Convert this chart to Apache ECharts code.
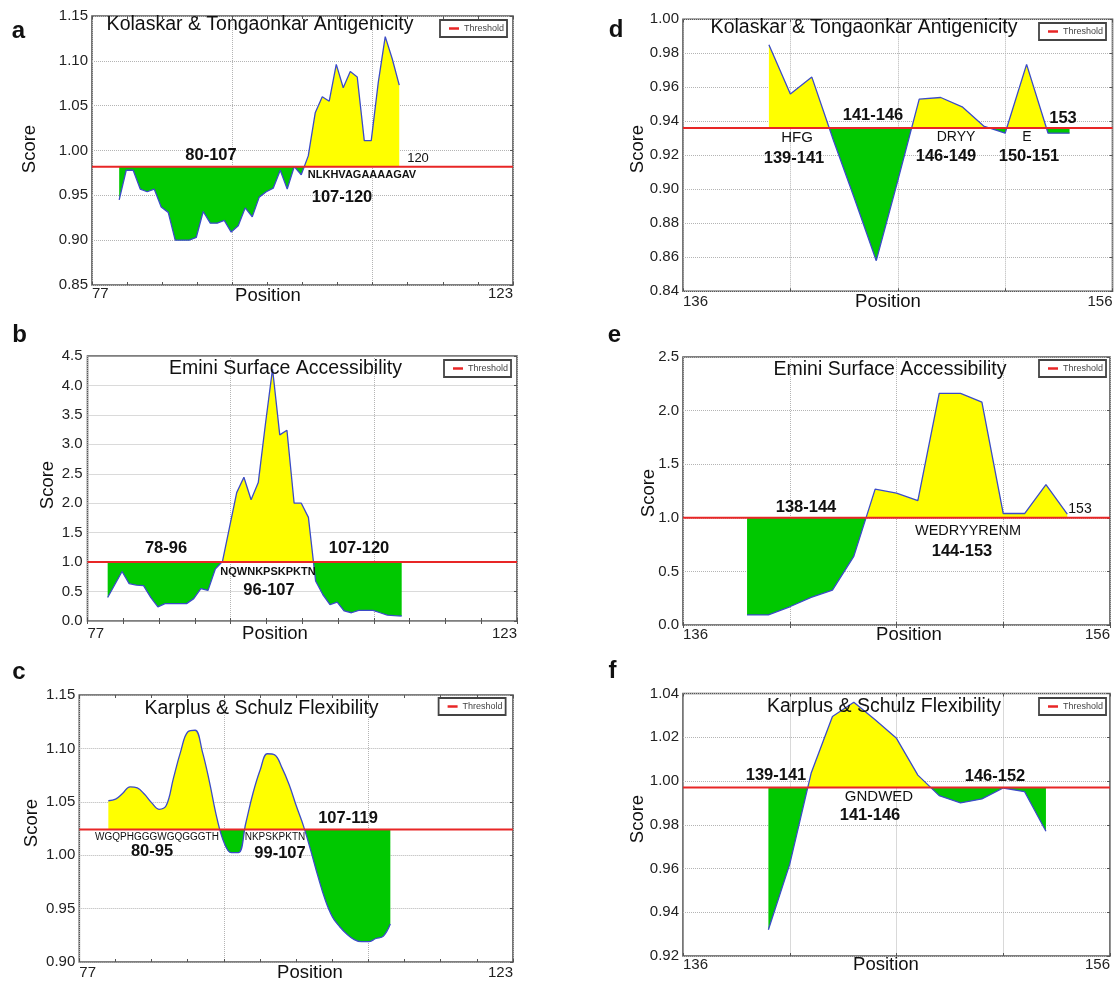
<!DOCTYPE html>
<html>
<head>
<meta charset="utf-8">
<script src="https://cdn.jsdelivr.net/npm/echarts@6/dist/echarts.min.js"></script>
<style>
  html, body { margin: 0; padding: 0; background: #fff; }
  #chart { width: 1120px; height: 981px; }
</style>
</head>
<body>
<div id="chart"></div>
<script>
// ---- data ----
// a: Kolaskar & Tongaonkar, region 77-123
const posA = [79.97, 80.74, 81.50, 82.27, 83.03, 83.80, 84.56, 85.33, 86.09, 86.86, 87.62, 88.39, 89.15, 89.92,
  90.68, 91.45, 92.21, 92.98, 93.74, 94.51, 95.27, 96.04, 96.80, 97.57, 98.33, 99.10, 99.86, 100.63, 101.39,
  102.16, 102.92, 103.69, 104.45, 105.22, 105.98, 106.75, 107.51, 108.28, 109.04, 109.81, 110.57];
const scoreA = [0.945, 0.978, 0.978, 0.957, 0.954, 0.957, 0.937, 0.931, 0.900, 0.900, 0.900, 0.903, 0.932, 0.919,
  0.919, 0.922, 0.909, 0.916, 0.936, 0.926, 0.948, 0.954, 0.958, 0.978, 0.957, 0.982, 0.973, 0.994, 1.042,
  1.060, 1.055, 1.096, 1.070, 1.088, 1.082, 1.011, 1.011, 1.076, 1.127, 1.102, 1.073];
const thrA = 0.982;

// b: Emini surface accessibility, region 77-123
const posB = [79.16, 79.93, 80.70, 81.46, 82.23, 83.00, 83.77, 84.54, 85.30, 86.07, 86.84, 87.61, 88.38, 89.14,
  89.91, 90.68, 91.45, 92.22, 92.98, 93.75, 94.52, 95.29, 96.06, 96.82, 97.59, 98.36, 99.13, 99.90, 100.66,
  101.43, 102.20, 102.97, 103.74, 104.50, 105.27, 106.04, 106.81, 107.58, 108.34, 109.11, 109.88, 110.65];
const scoreB = [0.40, 0.62, 0.84, 0.635, 0.61, 0.60, 0.40, 0.24, 0.295, 0.295, 0.295, 0.295, 0.38, 0.55,
  0.52, 0.88, 1.01, 1.60, 2.18, 2.44, 2.06, 2.35, 3.35, 4.28, 3.16, 3.24, 2.00, 2.00, 1.76,
  0.68, 0.45, 0.28, 0.32, 0.17, 0.14, 0.18, 0.18, 0.18, 0.14, 0.10, 0.09, 0.085];
const thrB = 1.0;

// c: Karplus & Schulz flexibility, region 77-123
const posC = [80.08, 80.85, 81.61, 82.38, 83.15, 83.92, 84.68, 85.45, 86.22, 86.98, 87.75, 88.52, 89.28, 90.05,
  90.82, 91.59, 92.35, 93.12, 93.89, 94.65, 95.42, 96.19, 96.95, 97.72, 98.49, 99.26, 100.02, 100.79,
  101.56, 102.32, 103.09, 103.86, 104.62, 105.39, 106.16, 106.93, 107.69, 108.46, 109.23, 109.99];
const scoreC = [1.051, 1.0525, 1.058, 1.064, 1.063, 1.057, 1.049, 1.043, 1.0465, 1.072, 1.097, 1.1156, 1.117, 1.097,
  1.068, 1.035, 1.012, 1.0025, 1.0025, 1.0297, 1.058, 1.080, 1.095, 1.094, 1.082, 1.066, 1.046, 1.027,
  1.004, 0.980, 0.958, 0.942, 0.933, 0.926, 0.921, 0.919, 0.919, 0.922, 0.924, 0.9355];
const thrC = 1.024;

// d: Kolaskar & Tongaonkar, region 136-156
const posD = [140, 141, 142, 143, 144, 145, 146, 147, 148, 149, 150, 151, 152, 153, 154];
const scoreD = [0.985, 0.956, 0.966, 0.929, 0.894, 0.858, 0.905, 0.953, 0.954, 0.9485, 0.9372, 0.933, 0.9735, 0.933, 0.933];
const thrD = 0.936;

// e: Emini surface accessibility, region 136-156
const posE = [139, 140, 141, 142, 143, 144, 145, 146, 147, 148, 149, 150, 151, 152, 153, 154];
const scoreE = [0.094, 0.094, 0.17, 0.257, 0.326, 0.64, 1.267, 1.23, 1.16, 2.16, 2.16, 2.08, 1.04, 1.04, 1.31, 1.035];
const thrE = 1.0;

// f: Karplus & Schulz flexibility, region 136-156
const posF = [140, 141, 142, 143, 144, 145, 146, 147, 148, 149, 150, 151, 152, 153];
const scoreF = [0.932, 0.962, 1.0035, 1.0295, 1.036, 1.028, 1.0195, 1.0027, 0.9933, 0.990, 0.9918, 0.9968, 0.9951, 0.977];
const thrF = 0.997;

const titleKT = 'Kolaskar & Tongaonkar Antigenicity';
const titleEmini = 'Emini Surface Accessibility';
const titleKS = 'Karplus & Schulz Flexibility';

// ---- layout (pixels) ----
const FONT = '"Liberation Sans", Arial, Helvetica, sans-serif';
const panels = [
  { letter: 'a', title: titleKT, pos: posA, score: scoreA, thr: thrA, xr: [77, 123, 46 / 3, 4], yr: [0.85, 1.15, 0.05, 2],
    box: [92, 16, 513, 285], xm: 1.5, ym: 4, smooth: false,
    letterAt: [18.5, 31], titleAt: [260, 25], scoreAt: [30, 149], positionAt: [268, 296], legendAt: [440, 20],
    notes: [['80-107', 211, 155, 'b'], ['NLKHVAGAAAAGAV', 362, 175, 's'], ['107-120', 342, 197, 'b'], ['120', 418, 158, 'n13']] },
  { letter: 'b', title: titleEmini, pos: posB, score: scoreB, thr: thrB, xr: [77, 123, 46 / 3, 4], yr: [0, 4.5, 0.5, 1],
    box: [87.5, 356, 517, 621], xm: 5.5, ym: 5, smooth: false,
    letterAt: [19.5, 335], titleAt: [285.5, 369], scoreAt: [47.5, 485], positionAt: [275, 634], legendAt: [444, 360],
    notes: [['78-96', 166, 548, 'b'], ['NQWNKPSKPKTN', 268, 572, 's'], ['96-107', 269, 590, 'b'], ['107-120', 359, 548, 'b']] },
  { letter: 'c', title: titleKS, pos: posC, score: scoreC, thr: thrC, xr: [77, 123, 46 / 3, 4], yr: [0.9, 1.15, 0.05, 2],
    box: [79.3, 695, 513, 962], xm: 3.5, ym: 4, smooth: 0.4,
    letterAt: [19, 672], titleAt: [261.5, 709], scoreAt: [32, 823], positionAt: [310, 973], legendAt: [438.6, 698],
    notes: [['WGQPHGGGWGQGGGTH', 157, 837, 'n10'], ['80-95', 152, 851, 'b'], ['NKPSKPKTN', 275, 837, 'n10'],
      ['99-107', 280, 853, 'b'], ['107-119', 348, 818, 'b']] },
  { letter: 'd', title: titleKT, pos: posD, score: scoreD, thr: thrD, xr: [136, 156, 5, 1], yr: [0.84, 1.0, 0.02, 2],
    box: [683, 19.3, 1112.5, 291.3], xm: 3, ym: 4, smooth: false,
    letterAt: [616, 30], titleAt: [864, 28], scoreAt: [638, 149], positionAt: [888, 302], legendAt: [1039, 23],
    notes: [['HFG', 797, 138, 'n15'], ['139-141', 794, 158, 'b'], ['141-146', 873, 115, 'b'], ['DRYY', 956, 137, 'n14'],
      ['146-149', 946, 156, 'b'], ['E', 1027, 137, 'n14'], ['150-151', 1029, 156, 'b'], ['153', 1063, 118, 'b']] },
  { letter: 'e', title: titleEmini, pos: posE, score: scoreE, thr: thrE, xr: [136, 156, 5, 1], yr: [0, 2.5, 0.5, 1],
    box: [683, 357, 1110, 625], xm: 2.5, ym: 4, smooth: false,
    letterAt: [614.5, 335.5], titleAt: [890, 370], scoreAt: [649, 493], positionAt: [909, 635], legendAt: [1039, 360],
    notes: [['138-144', 806, 507, 'b'], ['WEDRYYRENM', 968, 531, 'n14.5'], ['144-153', 962, 551, 'b'], ['153', 1080, 509, 'n14']] },
  { letter: 'f', title: titleKS, pos: posF, score: scoreF, thr: thrF, xr: [136, 156, 5, 1], yr: [0.92, 1.04, 0.02, 2],
    box: [683, 693.5, 1110, 956], xm: 1.5, ym: 4, smooth: false,
    letterAt: [612.5, 671.5], titleAt: [884, 707], scoreAt: [638, 819], positionAt: [886, 965], legendAt: [1039, 698],
    notes: [['139-141', 776, 775, 'b'], ['GNDWED', 879, 797, 'n15'], ['141-146', 870, 815, 'b'], ['146-152', 995, 776, 'b']] }
];

const YELLOW = '#ffff00';
const GREEN = '#00c800';
const LINE = '#3b4bc8';
const RED = '#e82626';

function text(str, x, y, size, weight, rotation) {
  return {
    type: 'text', x: x, y: y, rotation: rotation || 0, z: 100,
    style: { text: str, fill: '#111', fontSize: size, fontWeight: weight, fontFamily: FONT,
      align: 'center', verticalAlign: 'middle' }
  };
}

const option = {
  animation: false,
  textStyle: { fontFamily: FONT },
  grid: [], xAxis: [], yAxis: [], series: [], visualMap: [], legend: [], graphic: []
};

panels.forEach(function (p, i) {
  const [l, t, r, b] = p.box;
  option.grid.push({ left: l, top: t, width: r - l, height: b - t, show: true,
    borderColor: '#555', borderWidth: 1.6, backgroundColor: 'transparent' });

  const isEnd = v => Math.abs(v - p.xr[0]) < 1e-6 || Math.abs(v - p.xr[1]) < 1e-6;
  [false, true].forEach(function (top) {
    option.xAxis.push({
      type: 'value', gridIndex: i, position: top ? 'top' : 'bottom',
      min: p.xr[0], max: p.xr[1], interval: p.xr[2],
      axisLine: { show: false },
      axisTick: { show: true, inside: true, length: 3, lineStyle: { color: '#555' } },
      minorTick: { show: p.xr[3] > 1, splitNumber: p.xr[3], length: 3, lineStyle: { color: '#555' } },
      splitLine: { show: !top, lineStyle: { color: '#b4b4b4', type: 'dotted', width: 1 } },
      axisLabel: { show: !top, margin: p.xm, fontSize: 15, color: '#222', fontFamily: FONT,
        showMinLabel: true, showMaxLabel: true, alignMinLabel: 'left', alignMaxLabel: 'right',
        formatter: v => isEnd(v) ? String(Math.round(v)) : '' }
    });
    option.yAxis.push({
      type: 'value', gridIndex: i, position: top ? 'right' : 'left',
      min: p.yr[0], max: p.yr[1], interval: p.yr[2],
      axisLine: { show: false },
      axisTick: { show: top, inside: true, length: 3, lineStyle: { color: '#555' } },
      splitLine: { show: !top, lineStyle: { color: '#b4b4b4', type: 'dotted', width: 1 } },
      axisLabel: { show: !top, margin: p.ym, fontSize: 15, color: '#222', fontFamily: FONT,
        formatter: v => v.toFixed(p.yr[3]) }
    });
  });

  const sArea = option.series.length;
  option.series.push({
    type: 'line', xAxisIndex: 2 * i, yAxisIndex: 2 * i,
    data: p.pos.map((x, k) => [x, p.score[k]]),
    symbol: 'none', smooth: p.smooth, z: 2,
    lineStyle: { color: LINE, width: 1.3 },
    areaStyle: { origin: p.thr, opacity: 1 }
  });
  // fill colour: green below the threshold, yellow above (bounded pieces so the gradient has stops)
  option.visualMap.push({
    type: 'piecewise', show: false, seriesIndex: sArea, dimension: 1,
    pieces: [{ gte: p.yr[0], lt: p.thr, color: GREEN }, { gte: p.thr, lte: p.yr[1], color: YELLOW }],
    outOfRange: { color: YELLOW }
  });
  option.series.push({
    type: 'line', name: 'Threshold', xAxisIndex: 2 * i, yAxisIndex: 2 * i,
    data: [[p.xr[0], p.thr], [p.xr[1], p.thr]],
    symbol: 'none', z: 3,
    lineStyle: { color: RED, width: 2 }, itemStyle: { color: RED }
  });

  option.legend.push({
    left: p.legendAt[0], top: p.legendAt[1], data: ['Threshold'], selectedMode: false,
    icon: 'rect', itemWidth: 10, itemHeight: 2.5, padding: [4, 3, 4, 9],
    borderColor: '#444', borderWidth: 1.8, backgroundColor: '#fff',
    textStyle: { fontSize: 9, color: '#444', fontFamily: FONT }
  });

  option.graphic.push(text(p.letter, p.letterAt[0], p.letterAt[1], 24, 'bold'));
  option.graphic.push(text(p.title, p.titleAt[0], p.titleAt[1], 19.5, 'normal'));
  option.graphic.push(text('Score', p.scoreAt[0], p.scoreAt[1], 18.5, 'normal', Math.PI / 2));
  option.graphic.push(text('Position', p.positionAt[0], p.positionAt[1], 18.5, 'normal'));
  p.notes.forEach(function (n) {
    const kind = n[3];
    if (kind === 'b') option.graphic.push(text(n[0], n[1], n[2], 16.5, 'bold'));
    else if (kind === 's') option.graphic.push(text(n[0], n[1], n[2], 11, 'bold'));
    else option.graphic.push(text(n[0], n[1], n[2], parseFloat(kind.slice(1)), 'normal'));
  });
});

const chart = echarts.init(document.getElementById('chart'));
chart.setOption(option);
</script>
</body>
</html>
